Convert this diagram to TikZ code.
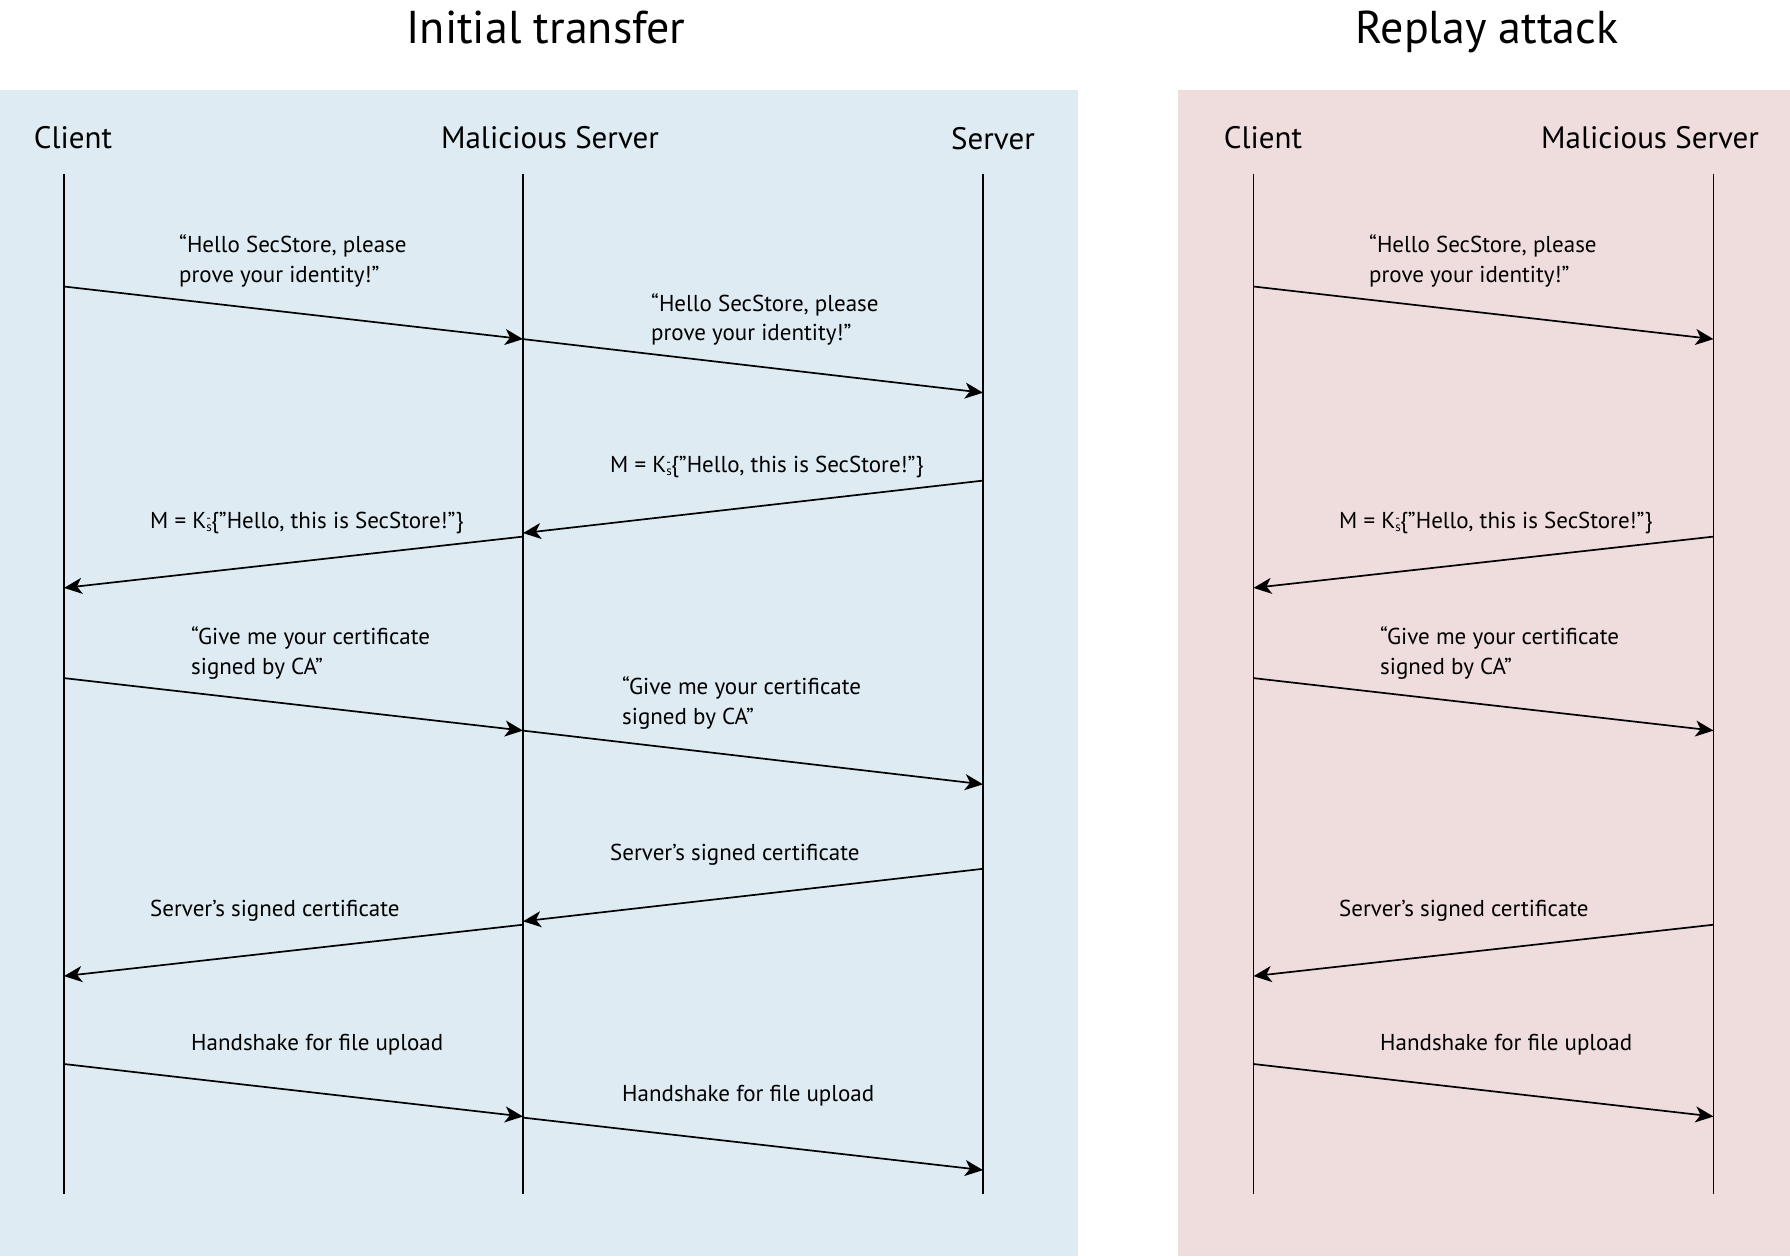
\documentclass[tikz,border=0pt]{standalone}
\usepackage{fontspec}
\setmainfont{PT Sans}
\usetikzlibrary{arrows.meta}
\definecolor{panelblue}{RGB}{222,235,242}
\definecolor{panelpink}{RGB}{239,220,221}
\newcommand{\Kinv}{K{\fontsize{13}{13}\selectfont\rlap{\raisebox{-0.6ex}{s}}\raisebox{0.85ex}{-}}}
\tikzset{
  title/.style={font=\fontsize{46}{50}\selectfont, anchor=base, inner sep=0},
  head/.style={font=\fontsize{31}{34}\selectfont, anchor=base, inner sep=0},
  lbl/.style={font=\fontsize{23}{29.7}\selectfont, anchor=base west, inner sep=0, align=left},
  life/.style={line width=1.9pt},
  msg/.style={line width=1.7pt, -{Stealth[length=18pt,width=16pt,inset=5pt]}}
}
\begin{document}
\begin{tikzpicture}[x=1pt,y=-1pt]
\useasboundingbox (0,0) rectangle (1790,1256);
\fill[panelblue] (0,90) rectangle (1078,1256);
\fill[panelpink] (1178,90) rectangle (1790,1256);
\node[title] (t1) at (546,43) {Initial transfer};
\node[title] (t2) at (1487,43) {Replay attack};
% headers
\node[head] (hc) at (73,148) {Client};
\node[head] (hm) at (550,148) {Malicious Server};
\node[head] (hs) at (993,149) {Server};
\node[head] (hc2) at (1263,148) {Client};
\node[head] (hm2) at (1650,148) {Malicious Server};
% lifelines
\foreach \n/\x in {C/64, M/523, S/983, PC/1253.5, PM/1713.5} {
  \coordinate (\n top) at (\x,173.5);
  \coordinate (\n bot) at (\x,1194);
  \draw[life] (\n top) -- (\n bot);
}
% blue message endpoints
\coordinate (c1) at (64,286.5);   \coordinate (m1) at (523,339.1);
\coordinate (m2) at (523,339.1);  \coordinate (s2) at (983,392.7);
\coordinate (s3) at (983,480.6);  \coordinate (m3) at (523,533.1);
\coordinate (m4) at (523,536.6);  \coordinate (c4) at (64,587.9);
\coordinate (c5) at (64,678.1);   \coordinate (m5) at (523,730.6);
\coordinate (m6) at (523,730.6);  \coordinate (s6) at (983,784.3);
\coordinate (s7) at (983,868.8);  \coordinate (m7) at (523,921.3);
\coordinate (m8) at (523,924.7);  \coordinate (c8) at (64,976.1);
\coordinate (c9) at (64,1064.0);  \coordinate (m9) at (523,1116.5);
\coordinate (m10) at (523,1117.6);\coordinate (s10) at (983,1170.1);
\draw[msg] (c1) -- (m1);
\draw[msg] (m2) -- (s2);
\draw[msg] (s3) -- (m3);
\draw[msg] (m4) -- (c4);
\draw[msg] (c5) -- (m5);
\draw[msg] (m6) -- (s6);
\draw[msg] (s7) -- (m7);
\draw[msg] (m8) -- (c8);
\draw[msg] (c9) -- (m9);
\draw[msg] (m10) -- (s10);
% blue labels (two-line labels: base = last line)
\node[lbl] (l1) at (179,282.5) {“Hello SecStore, please\\prove your identity!”};
\node[lbl] (l2) at (651,340.8) {“Hello SecStore, please\\prove your identity!”};
\node[lbl] (l3) at (610,472.0) {M = \Kinv\{”Hello, this is SecStore!”\}};
\node[lbl] (l4) at (150,528.0) {M = \Kinv\{”Hello, this is SecStore!”\}};
\node[lbl] (l5) at (191,674.1) {“Give me your certificate\\signed by CA”};
\node[lbl] (l6) at (622,724.3) {“Give me your certificate\\signed by CA”};
\node[lbl] (l7) at (610,860.2) {Server’s signed certificate};
\node[lbl] (l8) at (150,916.1) {Server’s signed certificate};
\node[lbl] (l9) at (191,1050.8) {Handshake for file upload};
\node[lbl] (l10) at (622,1101.1) {Handshake for file upload};
% pink message endpoints
\coordinate (pc1) at (1253.5,286.5);  \coordinate (pm1) at (1713.5,339.1);
\coordinate (pm2) at (1713.5,536.6);  \coordinate (pc2) at (1253.5,587.9);
\coordinate (pc3) at (1253.5,678.1);  \coordinate (pm3) at (1713.5,730.6);
\coordinate (pm4) at (1713.5,924.7);  \coordinate (pc4) at (1253.5,976.1);
\coordinate (pc5) at (1253.5,1064.0); \coordinate (pm5) at (1713.5,1116.5);
\draw[msg] (pc1) -- (pm1);
\draw[msg] (pm2) -- (pc2);
\draw[msg] (pc3) -- (pm3);
\draw[msg] (pm4) -- (pc4);
\draw[msg] (pc5) -- (pm5);
\node[lbl] (pl1) at (1369,282.5) {“Hello SecStore, please\\prove your identity!”};
\node[lbl] (pl2) at (1339,528.0) {M = \Kinv\{”Hello, this is SecStore!”\}};
\node[lbl] (pl3) at (1380,674.1) {“Give me your certificate\\signed by CA”};
\node[lbl] (pl4) at (1339,916.1) {Server’s signed certificate};
\node[lbl] (pl5) at (1380,1050.8) {Handshake for file upload};
\end{tikzpicture}
\end{document}
